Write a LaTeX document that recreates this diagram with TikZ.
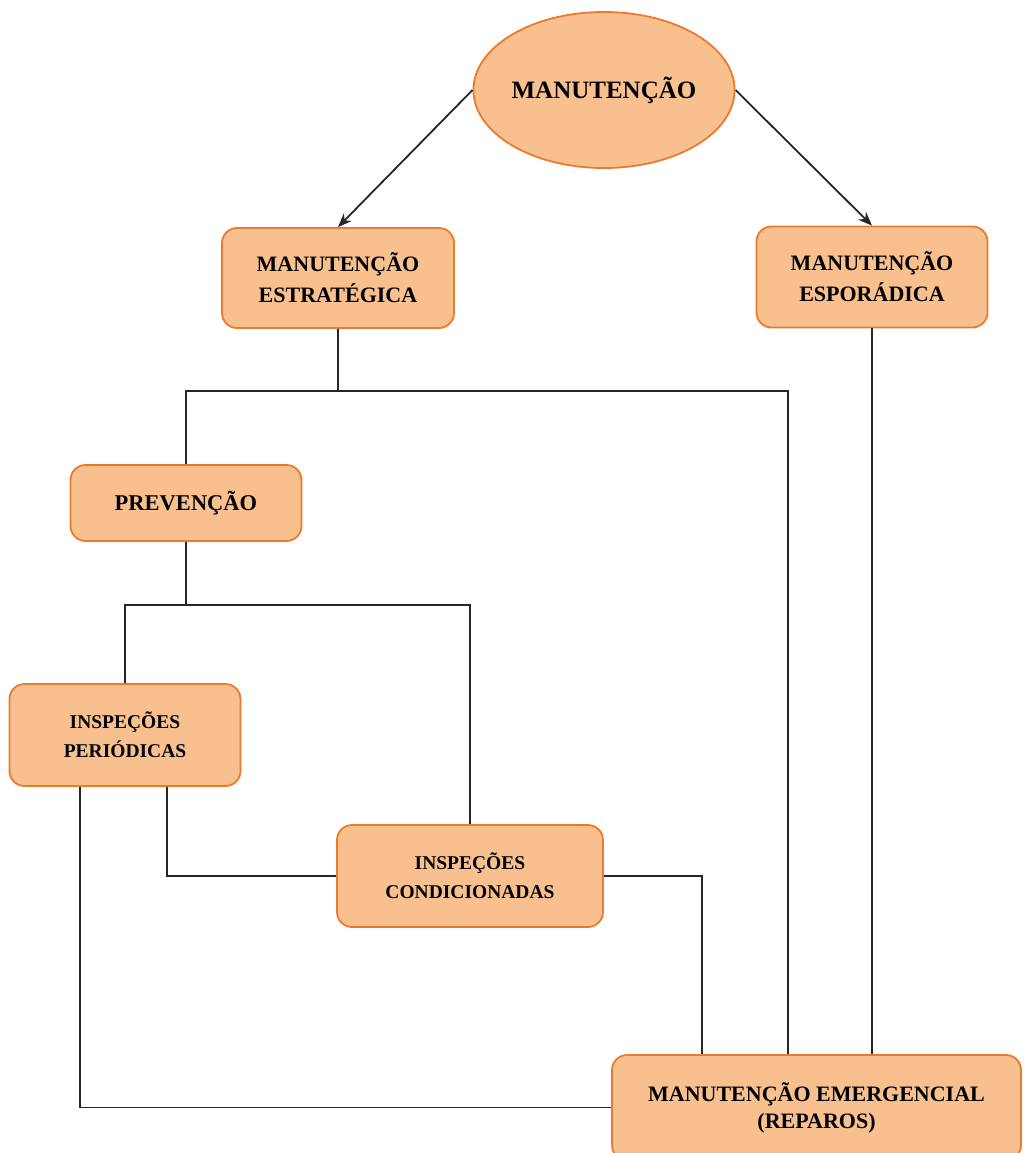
\documentclass[tikz,border=0pt]{standalone}
\usepackage{fontspec}
\setmainfont{Liberation Serif}
\usetikzlibrary{shapes.geometric,arrows.meta}
\definecolor{boxfill}{HTML}{F8C08F}
\definecolor{boxline}{HTML}{EC7A2C}
\begin{document}
\begin{tikzpicture}[x=1pt,y=-1pt,
  box/.style={draw=boxline,fill=boxfill,line width=1.8pt,rounded corners=15pt,
    align=center,inner sep=0pt,font=\bfseries},
  oval/.style={ellipse,draw=boxline,fill=boxfill,line width=1.8pt,inner sep=0pt,
    minimum width=252pt,minimum height=156pt,font=\bfseries\fontsize{25}{30}\selectfont},
  conn/.style={draw=black!85,line width=1.8pt},
  arr/.style={conn,-{Stealth[length=14pt,width=11pt]}}]
\useasboundingbox (0,0) rectangle (1023,1153);
\node[oval] (m) at (604,90) {MANUTENÇÃO};
\node[box,minimum width=232pt,minimum height=100pt,font=\bfseries\fontsize{22}{31}\selectfont] (est) at (338,278) {MANUTENÇÃO\\ESTRATÉGICA};
\node[box,minimum width=231pt,minimum height=101pt,font=\bfseries\fontsize{22}{31}\selectfont] (esp) at (872,277) {MANUTENÇÃO\\ESPORÁDICA};
\node[box,minimum width=231pt,minimum height=76pt,font=\bfseries\fontsize{22.5}{30}\selectfont] (prev) at (186,503) {PREVENÇÃO};
\node[box,minimum width=231pt,minimum height=102pt,font=\bfseries\fontsize{19.5}{29}\selectfont] (per) at (125,735) {INSPEÇÕES\\PERIÓDICAS};
\node[box,minimum width=266pt,minimum height=102pt,font=\bfseries\fontsize{19.5}{29}\selectfont] (cond) at (470,876) {INSPEÇÕES\\CONDICIONADAS};
\node[box,minimum width=409pt,minimum height=105pt,font=\bfseries\fontsize{22}{27}\selectfont] (em) at (816.5,1107.5) {MANUTENÇÃO EMERGENCIAL\\(REPAROS)};
% arrows
\draw[arr] (m.west) -- (est.north);
\draw[arr] (m.east) -- (esp.north);
% helper coordinates
\coordinate (h1) at (0,391);
\coordinate (h2) at (0,605);
\coordinate (v1) at (788,0);
\coordinate (v2) at (167,0);
\coordinate (v3) at (80,0);
\coordinate (v4) at (702,0);
% tree from estrategica
\draw[conn] (est.south) -- (est.south |- h1);
\draw[conn] (prev.north) -- (prev.north |- h1) -- (v1 |- h1) -- (v1 |- em.north);
\draw[conn] (esp.south) -- (esp.south |- em.north);
% tree from prevencao
\draw[conn] (prev.south) -- (prev.south |- h2);
\draw[conn] (per.north) -- (per.north |- h2) -- (cond.north |- h2) -- (cond.north);
% links to condicionadas and emergencial
\draw[conn] (per.south -| v2) |- (cond.west);
\draw[conn] (per.south -| v3) |- (em.west);
\draw[conn] (cond.east) -| (v4 |- em.north);
\end{tikzpicture}
\end{document}
